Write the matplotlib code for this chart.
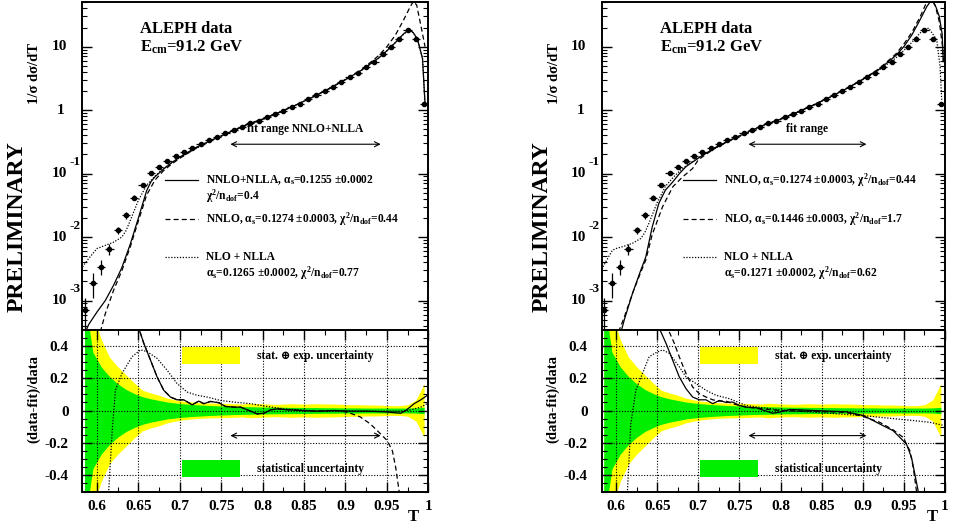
import matplotlib.pyplot as plt
import numpy as np
from matplotlib.ticker import MultipleLocator, LogLocator, NullFormatter, FuncFormatter
from matplotlib.lines import Line2D
from matplotlib.patches import Rectangle

plt.rcParams['font.family'] = ['Liberation Serif', 'DejaVu Serif']
plt.rcParams['font.weight'] = 'bold'
plt.rcParams['mathtext.fontset'] = 'custom'
plt.rcParams['mathtext.rm'] = 'Liberation Serif:bold'
plt.rcParams['mathtext.it'] = 'Liberation Serif:italic:bold'
plt.rcParams['mathtext.bf'] = 'Liberation Serif:bold'
plt.rcParams['mathtext.default'] = 'rm'

# ---- ALEPH thrust data (bin centres, 1/sigma dsigma/dT) ----
T_data = [0.585, 0.595, 0.605, 0.615, 0.625, 0.635, 0.645, 0.655, 0.665, 0.675,
          0.685, 0.695, 0.705, 0.715, 0.725, 0.735, 0.745, 0.755, 0.765, 0.775,
          0.785, 0.795, 0.805, 0.815, 0.825, 0.835, 0.845, 0.855, 0.865, 0.875,
          0.885, 0.895, 0.905, 0.915, 0.925, 0.935, 0.945, 0.955, 0.965, 0.975,
          0.985, 0.995]
xs_data = [7.0e-4, 1.9e-3, 3.4e-3, 6.5e-3, 0.0127, 0.022, 0.042, 0.065, 0.104, 0.127,
           0.158, 0.188, 0.22, 0.254, 0.29, 0.336, 0.38, 0.43, 0.48, 0.546,
           0.616, 0.68, 0.766, 0.865, 0.976, 1.13, 1.27, 1.47, 1.72, 2.0,
           2.33, 2.77, 3.28, 3.9, 4.72, 5.8, 7.6, 9.8, 13.4, 18.3,
           13.2, 1.27]
xs_err = [3.8e-4, 8e-4, 9e-4, 1.2e-3, 1.6e-3, 2.4e-3, 3.5e-3, 4.5e-3, 6e-3, 6.5e-3,
          7e-3, 7.5e-3, 8e-3, 8.5e-3, 9e-3, 0.01, 0.011, 0.012, 0.012, 0.013,
          0.014, 0.015, 0.016, 0.018, 0.02, 0.022, 0.024, 0.027, 0.03, 0.034,
          0.038, 0.044, 0.05, 0.058, 0.07, 0.085, 0.11, 0.14, 0.19, 0.26,
          0.22, 0.03]
half_bin = 0.005

# relative uncertainty bands (half widths)
band_stat_exp = [0.9, 0.6, 0.44, 0.33, 0.27, 0.22, 0.17, 0.125, 0.108, 0.094,
                 0.076, 0.065, 0.057, 0.052, 0.048, 0.046, 0.045, 0.044, 0.042, 0.040,
                 0.045, 0.042, 0.040, 0.038, 0.040, 0.042, 0.040, 0.040, 0.042, 0.040,
                 0.040, 0.038, 0.036, 0.036, 0.034, 0.034, 0.032, 0.030, 0.030, 0.035,
                 0.065, 0.165]
band_stat = [0.7, 0.36, 0.27, 0.21, 0.165, 0.13, 0.105, 0.085, 0.072, 0.062,
             0.052, 0.046, 0.041, 0.037, 0.034, 0.031, 0.029, 0.027, 0.025, 0.024,
             0.023, 0.022, 0.021, 0.020, 0.020, 0.019, 0.019, 0.018, 0.018, 0.017,
             0.017, 0.016, 0.016, 0.016, 0.015, 0.015, 0.015, 0.015, 0.015, 0.015,
             0.016, 0.02]

# ---- left panel: fits to distribution ----
L_nnlo_nlla_T = [0.586, 0.59, 0.60, 0.61, 0.62, 0.63, 0.64, 0.65, 0.66, 0.665, 0.67, 0.68,
                 0.69, 0.70, 0.72, 0.74, 0.76, 0.78, 0.80, 0.82, 0.84, 0.86, 0.88, 0.90,
                 0.92, 0.94, 0.95, 0.96, 0.97, 0.977, 0.982, 0.987, 0.993, 0.996]
L_nnlo_nlla = [3.2e-4, 4.2e-4, 6.6e-4, 1.0e-3, 1.74e-3, 3.3e-3, 7.6e-3, 0.02, 0.054, 0.074, 0.089, 0.117,
               0.148, 0.182, 0.26, 0.345, 0.45, 0.585, 0.72, 0.92, 1.2, 1.59, 2.16, 3.02,
               4.3, 6.6, 8.6, 11.5, 15.8, 18.7, 16.5, 13.0, 6.5, 1.3]
L_nnlo_T = [0.604, 0.61, 0.62, 0.63, 0.64, 0.65, 0.66, 0.67, 0.68, 0.69, 0.70, 0.72,
            0.74, 0.76, 0.78, 0.80, 0.82, 0.84, 0.86, 0.88, 0.90, 0.92, 0.94, 0.95,
            0.96, 0.97, 0.978, 0.982, 0.986, 0.99, 0.993, 0.996]
L_nnlo = [3.2e-4, 6.2e-4, 1.45e-3, 2.95e-3, 6.9e-3, 0.018, 0.046, 0.079, 0.11, 0.141, 0.174, 0.255,
          0.343, 0.45, 0.585, 0.72, 0.92, 1.2, 1.6, 2.17, 3.05, 4.4, 7.2, 10.0,
          15.0, 26.0, 42.0, 52.0, 45.0, 25.0, 16.0, 10.0]
L_nlo_nlla_T = [0.5825, 0.59, 0.60, 0.61, 0.62, 0.63, 0.635, 0.64, 0.65, 0.66, 0.67, 0.68,
                0.69, 0.70, 0.72, 0.74, 0.76, 0.78, 0.80, 0.82, 0.84, 0.86, 0.88, 0.90,
                0.92, 0.94, 0.95, 0.96, 0.97, 0.977, 0.982, 0.987, 0.993, 0.996]
L_nlo_nlla = [3.4e-3, 4.6e-3, 6.6e-3, 7.4e-3, 8.3e-3, 0.01, 0.0126, 0.018, 0.038, 0.066, 0.091, 0.12,
              0.148, 0.178, 0.25, 0.34, 0.435, 0.57, 0.71, 0.91, 1.2, 1.59, 2.16, 3.02,
              4.3, 6.6, 8.6, 11.5, 15.6, 18.2, 16.5, 13.0, 6.5, 1.3]

# ---- right panel: fits to distribution ----
R_nnlo_T = [0.606, 0.61, 0.62, 0.63, 0.636, 0.644, 0.652, 0.66, 0.669, 0.677, 0.685, 0.70,
            0.72, 0.74, 0.76, 0.78, 0.80, 0.82, 0.84, 0.86, 0.88, 0.90, 0.92, 0.94,
            0.95, 0.96, 0.97, 0.978, 0.984, 0.989, 0.993, 0.9965, 0.998]
R_nnlo = [3.2e-4, 5.0e-4, 1.3e-3, 3.0e-3, 4.8e-3, 0.0145, 0.034, 0.055, 0.074, 0.1, 0.129, 0.175,
          0.255, 0.343, 0.45, 0.585, 0.72, 0.92, 1.2, 1.6, 2.17, 3.05, 4.4, 7.2,
          10.0, 15.5, 27.0, 43.0, 55.0, 42.0, 30.0, 16.0, 5.8]
R_nlo_T = [0.603, 0.61, 0.62, 0.63, 0.636, 0.644, 0.6565, 0.669, 0.681, 0.693, 0.70,
           0.72, 0.74, 0.76, 0.78, 0.80, 0.82, 0.84, 0.86, 0.88, 0.90, 0.92, 0.94,
           0.95, 0.96, 0.97, 0.977, 0.983, 0.988, 0.993, 0.997, 0.998]
R_nlo = [3.2e-4, 5.5e-4, 1.3e-3, 2.8e-3, 4.3e-3, 0.011, 0.03, 0.062, 0.089, 0.12, 0.165,
         0.25, 0.34, 0.45, 0.585, 0.72, 0.92, 1.2, 1.6, 2.17, 3.05, 4.5, 7.6,
         11.0, 17.0, 30.0, 48.0, 56.0, 45.0, 25.0, 10.0, 5.8]
R_nlo_nlla_T = [0.584, 0.5955, 0.60, 0.61, 0.62, 0.63, 0.635, 0.64, 0.65, 0.66, 0.67, 0.68,
                0.69, 0.70, 0.72, 0.74, 0.76, 0.78, 0.80, 0.82, 0.84, 0.86, 0.88, 0.90,
                0.92, 0.94, 0.95, 0.96, 0.97, 0.98, 0.99, 0.994, 0.996]
R_nlo_nlla = [3.4e-3, 6.2e-3, 6.6e-3, 7.2e-3, 8.0e-3, 9.5e-3, 0.0118, 0.0166, 0.035, 0.063, 0.089, 0.118,
              0.147, 0.177, 0.25, 0.34, 0.435, 0.57, 0.71, 0.91, 1.2, 1.59, 2.16, 3.02,
              4.3, 6.6, 8.7, 11.8, 16.5, 19.6, 12.8, 4.8, 1.45]

# ---- ratio (data-fit)/data, left panel ----
rL_nnlo_nlla_T = [0.6463, 0.6504, 0.6564, 0.6645, 0.6725, 0.6806, 0.6887, 0.6967, 0.7048, 0.7149,
                  0.7229, 0.729, 0.7371, 0.7471, 0.7552, 0.7652, 0.7733, 0.7834, 0.7934, 0.8015,
                  0.8096, 0.8176, 0.8257, 0.8458, 0.866, 0.8861, 0.9063, 0.9264, 0.9466, 0.9667,
                  0.9728, 0.9829, 0.991, 1.0]
rL_nnlo_nlla = [0.58, 0.509, 0.416, 0.312, 0.208, 0.125, 0.083, 0.066, 0.066, 0.035,
                0.058, 0.042, 0.056, 0.048, 0.025, 0.021, 0.021, 0.0, -0.021, -0.017,
                0.004, 0.010, 0.006, 0.0, -0.004, 0.0, -0.004, -0.004, -0.008, -0.017,
                0.0, 0.042, 0.066, 0.098]
rL_nnlo_T = [0.6463, 0.6504, 0.6564, 0.6645, 0.6725, 0.6806, 0.6887, 0.6967, 0.7048, 0.7149,
             0.7229, 0.729, 0.7371, 0.7471, 0.7552, 0.7652, 0.7733, 0.7834, 0.7934, 0.8015,
             0.8096, 0.8176, 0.8257, 0.8458, 0.866, 0.8861, 0.898, 0.906, 0.918, 0.930,
             0.9425, 0.9506, 0.9567, 0.9607, 0.9648, 0.9668]
rL_nnlo = [0.58, 0.509, 0.416, 0.312, 0.208, 0.125, 0.083, 0.066, 0.066, 0.035,
           0.058, 0.042, 0.056, 0.048, 0.025, 0.021, 0.021, 0.0, -0.021, -0.017,
           0.004, 0.010, 0.006, 0.0, -0.004, 0.0, -0.006, -0.017, -0.04, -0.083,
           -0.145, -0.187, -0.25, -0.353, -0.5, -0.58]
rL_nlo_nlla_T = [0.6121, 0.6141, 0.6181, 0.6222, 0.6302, 0.6423, 0.6524, 0.6604, 0.6725, 0.6846,
                 0.6967, 0.7088, 0.7209, 0.733, 0.7491, 0.7652, 0.7854, 0.8055, 0.8257, 0.8458,
                 0.866, 0.9264, 0.9667, 0.9788, 0.991, 1.0]
rL_nlo_nlla = [-0.58, -0.5, -0.145, 0.125, 0.229, 0.332, 0.374, 0.364, 0.322, 0.249,
               0.166, 0.114, 0.094, 0.083, 0.062, 0.052, 0.042, 0.025, 0.010, 0.004,
               -0.004, -0.004, -0.004, 0.004, 0.021, 0.046]

# ---- ratio (data-fit)/data, right panel ----
rR_nnlo_T = [0.6484, 0.6524, 0.6606, 0.6687, 0.6768, 0.685, 0.6931, 0.7012, 0.7093, 0.7175,
             0.7256, 0.7337, 0.7419, 0.75, 0.7581, 0.7703, 0.7825, 0.7906, 0.7988, 0.811,
             0.8232, 0.8394, 0.8598, 0.88, 0.9004, 0.9126, 0.9248, 0.937, 0.9451, 0.9532,
             0.9593, 0.9634, 0.9675, 0.9695]
rR_nnlo = [0.58, 0.509, 0.416, 0.312, 0.208, 0.135, 0.083, 0.066, 0.066, 0.042,
           0.062, 0.05, 0.052, 0.031, 0.021, 0.017, -0.004, -0.017, -0.01, 0.006,
           0.004, 0.0, -0.004, -0.008, -0.031, -0.062, -0.094, -0.125, -0.166, -0.208,
           -0.291, -0.395, -0.5, -0.58]
rR_nlo_T = [0.6585, 0.6626, 0.6707, 0.6768, 0.685, 0.6931, 0.7012, 0.7093, 0.7175, 0.7256,
            0.7337, 0.7419, 0.75, 0.7581, 0.7785, 0.7988, 0.8394, 0.88, 0.9004, 0.9207,
            0.937, 0.9492, 0.9573, 0.9614, 0.9654, 0.9675]
rR_nlo = [0.58, 0.509, 0.416, 0.332, 0.229, 0.145, 0.104, 0.083, 0.066, 0.058,
          0.058, 0.042, 0.031, 0.021, 0.010, 0.0, -0.004, -0.012, -0.037, -0.073,
          -0.12, -0.166, -0.249, -0.353, -0.5, -0.58]
rR_nlo_nlla_T = [0.6118, 0.6138, 0.6179, 0.624, 0.6321, 0.6402, 0.6484, 0.6565, 0.6646, 0.6768,
                 0.685, 0.6972, 0.7093, 0.7215, 0.7378, 0.7581, 0.7785, 0.7988, 0.8191, 0.8394,
                 0.8598, 0.88, 0.9004, 0.9207, 0.941, 0.9614, 0.9817, 1.0]
rR_nlo_nlla = [-0.58, -0.5, -0.083, 0.125, 0.229, 0.332, 0.357, 0.374, 0.353, 0.27,
               0.208, 0.166, 0.125, 0.094, 0.073, 0.031, 0.017, 0.004, -0.004, -0.01,
               -0.017, -0.025, -0.031, -0.042, -0.052, -0.062, -0.073, -0.094]

fit_range_left = (0.761, 0.9425)
fit_range_right = (0.761, 0.9045)

legend_left = [('-', ['NNLO+NLLA, α$_{s}$=0.1255 ±0.0002', 'χ$^{2}$/n$_{dof}$=0.4']),
               ('--', ['NNLO, α$_{s}$=0.1274 ±0.0003, χ$^{2}$/n$_{dof}$=0.44']),
               (':', ['NLO + NLLA', 'α$_{s}$=0.1265 ±0.0002, χ$^{2}$/n$_{dof}$=0.77'])]
legend_right = [('-', ['NNLO, α$_{s}$=0.1274 ±0.0003, χ$^{2}$/n$_{dof}$=0.44']),
                ('--', ['NLO, α$_{s}$=0.1446 ±0.0003, χ$^{2}$/n$_{dof}$=1.7']),
                (':', ['NLO + NLLA', 'α$_{s}$=0.1271 ±0.0002, χ$^{2}$/n$_{dof}$=0.62'])]

W, H = 954, 525
xmin, xmax = 0.5825, 1.0
styles = {'-': '-', '--': (0, (4, 2.5)), ':': (0, (1, 1.3))}
lw_curve = 0.9
YELLOW = '#ffff00'
GREEN = '#00ee00'

fig = plt.figure(figsize=(W / 100, H / 100), dpi=100)


def fig_axes(x0, y0, x1, y1):
    return fig.add_axes([x0 / W, 1 - y1 / H, (x1 - x0) / W, (y1 - y0) / H])


def style_spines(ax):
    for s in ax.spines.values():
        s.set_linewidth(1.4)


def draw_panel(xl, xr, up_curves, lo_curves, legend_rows, fit_range, fit_label, title_x):
    axu = fig_axes(xl, 1.7, xr, 329.5)
    axl = fig_axes(xl, 329.5, xr, 491.5)

    # ---- upper: distribution ----
    axu.set_yscale('log')
    axu.set_xlim(xmin, xmax)
    axu.set_ylim(3.5e-4, 51)
    axu.errorbar(T_data, xs_data, xerr=half_bin, yerr=xs_err, fmt='o', ms=3.0,
                 color='black', elinewidth=0.9, capsize=0, zorder=4)
    for (tt, vv), ls in zip(up_curves, ['-', '--', ':']):
        axu.plot(tt, vv, color='black', lw=lw_curve, linestyle=styles[ls])
    axu.yaxis.set_major_locator(LogLocator(base=10, numticks=10))
    axu.yaxis.set_minor_locator(LogLocator(base=10, subs=np.arange(2, 10), numticks=10))
    axu.yaxis.set_major_formatter(NullFormatter())
    axu.yaxis.set_minor_formatter(NullFormatter())
    axu.tick_params(axis='y', which='both', direction='in', left=True, right=True)
    axu.tick_params(axis='y', which='major', length=7, width=1.0)
    axu.tick_params(axis='y', which='minor', length=3.5, width=0.8)
    axu.tick_params(axis='x', which='both', bottom=False, top=False, labelbottom=False)
    style_spines(axu)
    tr = axu.get_yaxis_transform()
    for e in [-3, -2, -1, 0, 1]:
        v = 10.0 ** e
        if e == 0:
            axu.annotate('1', xy=(0, v), xycoords=tr, xytext=(-15.5, 0),
                         textcoords='offset points', ha='center', va='center', fontsize=11)
        else:
            axu.annotate('10', xy=(0, v), xycoords=tr, xytext=(-16.5, 0),
                         textcoords='offset points', ha='center', va='center', fontsize=11)
            if e != 1:
                axu.annotate('%d' % e, xy=(0, v), xycoords=tr, xytext=(-9.5, 8),
                             textcoords='offset points', ha='left', va='center', fontsize=9.5)

    # text labels
    axu.text(title_x, 0.904, 'ALEPH data', transform=axu.transAxes, fontsize=12, va='baseline')
    axu.text(title_x, 0.847, 'E$_{cm}$=91.2 GeV', transform=axu.transAxes, fontsize=12, va='baseline')

    # fit range arrow
    axu.annotate('', xy=(fit_range[1], 0.29), xytext=(fit_range[0], 0.29),
                 arrowprops=dict(arrowstyle='<->', lw=0.8, color='black',
                                 shrinkA=0, shrinkB=0, mutation_scale=9))
    axu.annotate(fit_label, xy=(0.5 * (fit_range[0] + fit_range[1]), 0.29),
                 xytext=(0, 6.5), textcoords='offset points', ha='center', va='bottom', fontsize=8.3)

    # legend rows
    if len(legend_rows[0][1]) == 1:
        rows_y = [(0.455,), (0.338,), (0.221, 0.173)]
    else:
        rows_y = [(0.455, 0.407), (0.338,), (0.221, 0.173)]
    for (ls, lines), ys in zip(legend_rows, rows_y):
        axu.add_line(Line2D([0.238, 0.333], [ys[0], ys[0]], transform=axu.transAxes,
                            color='black', lw=lw_curve, linestyle=styles[ls]))
        for txt, yy in zip(lines, ys):
            axu.text(0.356, yy, txt, transform=axu.transAxes, fontsize=8.3, va='center')

    # ---- lower: ratio ----
    axl.set_xlim(xmin, xmax)
    axl.set_ylim(-0.5, 0.5)
    tb = np.array(T_data)
    axl.fill_between(tb, -np.array(band_stat_exp), band_stat_exp, color=YELLOW, lw=0)
    axl.fill_between(tb, -np.array(band_stat), band_stat, color=GREEN, lw=0)
    for (tt, vv), ls in zip(lo_curves, ['-', '--', ':']):
        axl.plot(tt, vv, color='black', lw=lw_curve, linestyle=styles[ls])
    axl.xaxis.set_major_locator(MultipleLocator(0.05))
    axl.xaxis.set_minor_locator(MultipleLocator(0.025))
    axl.yaxis.set_major_locator(MultipleLocator(0.2))
    axl.yaxis.set_minor_locator(MultipleLocator(0.05))
    axl.xaxis.set_major_formatter(FuncFormatter(lambda v, p: '%g' % round(v, 3)))
    axl.yaxis.set_major_formatter(FuncFormatter(lambda v, p: '%g' % round(v, 3)))
    axl.tick_params(which='both', direction='in', top=True, right=True, labelsize=11)
    axl.tick_params(which='major', length=7, width=1.0)
    axl.tick_params(which='minor', length=3.5, width=0.8)
    axl.tick_params(axis='x', pad=6)
    axl.tick_params(axis='y', pad=10)
    axl.grid(True, which='major', color='black', linestyle=(0, (1, 1.5)), lw=0.8)
    style_spines(axl)
    axl.annotate('', xy=(fit_range[1], -0.155), xytext=(fit_range[0], -0.155),
                 arrowprops=dict(arrowstyle='<->', lw=0.8, color='black',
                                 shrinkA=0, shrinkB=0, mutation_scale=9))
    axl.add_patch(Rectangle((0.287, 0.787), 0.168, 0.107, transform=axl.transAxes,
                            facecolor=YELLOW, lw=0, zorder=3))
    axl.add_patch(Rectangle((0.287, 0.091), 0.168, 0.103, transform=axl.transAxes,
                            facecolor=GREEN, lw=0, zorder=3))
    axl.text(0.505, 0.836, 'stat. ⊕ exp. uncertainty', transform=axl.transAxes,
             fontsize=8.3, va='center')
    axl.text(0.505, 0.139, 'statistical uncertainty', transform=axl.transAxes,
             fontsize=8.3, va='center')
    return axu, axl


draw_panel(82.5, 428.3,
           [(L_nnlo_nlla_T, L_nnlo_nlla), (L_nnlo_T, L_nnlo), (L_nlo_nlla_T, L_nlo_nlla)],
           [(rL_nnlo_nlla_T, rL_nnlo_nlla), (rL_nnlo_T, rL_nnlo), (rL_nlo_nlla_T, rL_nlo_nlla)],
           legend_left, fit_range_left, 'fit range NNLO+NLLA', 0.166)
draw_panel(601.7, 945.0,
           [(R_nnlo_T, R_nnlo), (R_nlo_T, R_nlo), (R_nlo_nlla_T, R_nlo_nlla)],
           [(rR_nnlo_T, rR_nnlo), (rR_nlo_T, rR_nlo), (rR_nlo_nlla_T, rR_nlo_nlla)],
           legend_right, fit_range_right, 'fit range', 0.170)

# axis titles and watermark
for xo in [0, 519]:
    fig.text((35 + xo) / W, 1 - 73 / H, '1/σ dσ/dT', rotation=90, ha='center', va='center', fontsize=10.5)
    fig.text((34 + xo) / W, 1 - 399 / H, '(data-fit)/data', rotation=90, ha='center', va='center', fontsize=10.5)
    fig.text((17 + xo + (6 if xo else 0)) / W, 1 - 227 / H, 'PRELIMINARY', rotation=90,
             ha='center', va='center', fontsize=17)
fig.text(413 / W, 1 - 517 / H, 'T', ha='center', va='center', fontsize=12)
fig.text(932 / W, 1 - 517 / H, 'T', ha='center', va='center', fontsize=12)

fig.savefig('out.png', dpi=100)
